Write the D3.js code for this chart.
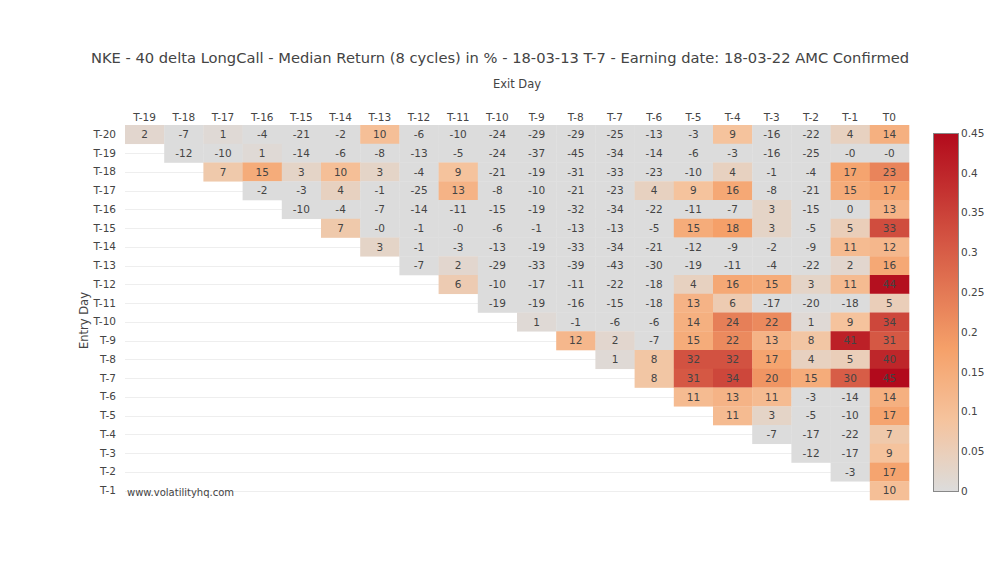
<!DOCTYPE html>
<html><head><meta charset="utf-8">
<script src="https://cdn.jsdelivr.net/npm/d3@7"></script>
<style>html,body{margin:0;padding:0;background:#fff;}svg{display:block;}</style>
</head><body>
<svg id="chart" width="1000" height="584"></svg>
<script>
// ---- data ----
const exitDays = ["T-19","T-18","T-17","T-16","T-15","T-14","T-13","T-12","T-11","T-10","T-9","T-8","T-7","T-6","T-5","T-4","T-3","T-2","T-1","T0"];
const entryDays = ["T-20","T-19","T-18","T-17","T-16","T-15","T-14","T-13","T-12","T-11","T-10","T-9","T-8","T-7","T-6","T-5","T-4","T-3","T-2","T-1"];
// each row starts at the exit day following its entry day (median return in %)
const rowT20 = [2,-7,1,-4,-21,-2,10,-6,-10,-24,-29,-29,-25,-13,-3,9,-16,-22,4,14];
const rowT19 = [-12,-10,1,-14,-6,-8,-13,-5,-24,-37,-45,-34,-14,-6,-3,-16,-25,-0,-0];
const rowT18 = [7,15,3,10,3,-4,9,-21,-19,-31,-33,-23,-10,4,-1,-4,17,23];
const rowT17 = [-2,-3,4,-1,-25,13,-8,-10,-21,-23,4,9,16,-8,-21,15,17];
const rowT16 = [-10,-4,-7,-14,-11,-15,-19,-32,-34,-22,-11,-7,3,-15,0,13];
const rowT15 = [7,-0,-1,-0,-6,-1,-13,-13,-5,15,18,3,-5,5,33];
const rowT14 = [3,-1,-3,-13,-19,-33,-34,-21,-12,-9,-2,-9,11,12];
const rowT13 = [-7,2,-29,-33,-39,-43,-30,-19,-11,-4,-22,2,16];
const rowT12 = [6,-10,-17,-11,-22,-18,4,16,15,3,11,44];
const rowT11 = [-19,-19,-16,-15,-18,13,6,-17,-20,-18,5];
const rowT10 = [1,-1,-6,-6,14,24,22,1,9,34];
const rowT9 = [12,2,-7,15,22,13,8,41,31];
const rowT8 = [1,8,32,32,17,4,5,40];
const rowT7 = [8,31,34,20,15,30,45];
const rowT6 = [11,13,11,-3,-14,14];
const rowT5 = [11,3,-5,-10,17];
const rowT4 = [-7,-17,-22,7];
const rowT3 = [-12,-17,9];
const rowT2 = [-3,17];
const rowT1 = [10];
const rowsByEntry = [rowT20,rowT19,rowT18,rowT17,rowT16,rowT15,rowT14,rowT13,rowT12,rowT11,rowT10,rowT9,rowT8,rowT7,rowT6,rowT5,rowT4,rowT3,rowT2,rowT1];
const colorTicks = [0,0.05,0.1,0.15,0.2,0.25,0.3,0.35,0.4,0.45];
const zMax = 0.45;
const titleText = "NKE - 40 delta LongCall - Median Return (8 cycles) in % - 18-03-13 T-7 - Earning date: 18-03-22 AMC Confirmed";

// build cells
const cells = [];
rowsByEntry.forEach((row, ri) => {
  row.forEach((v, k) => {
    cells.push({entry: entryDays[ri], exit: exitDays[ri + k], value: v});
  });
});

// ---- drawing ----
const FONT = "'DejaVu Sans', Verdana, sans-serif";
const svg = d3.select("#chart");
const plot = {left:125, right:909, top:125, bottom:500};

const x = d3.scaleBand().domain(exitDays).range([plot.left, plot.right]).padding(0);
const y = d3.scaleBand().domain(entryDays).range([plot.top, plot.bottom]).padding(0);
const color = d3.scaleLinear()
  .domain([0, 0.2*zMax, 0.4*zMax, zMax])
  .range(["rgb(220,220,220)","rgb(245,195,157)","rgb(245,160,105)","rgb(178,10,28)"])
  .clamp(true);

// gridlines (horizontal at row centers)
svg.append("g").selectAll("line").data(entryDays).join("line")
  .attr("x1", plot.left).attr("x2", plot.right)
  .attr("y1", d => Math.round(y(d) + y.bandwidth()/2) + 0.5)
  .attr("y2", d => Math.round(y(d) + y.bandwidth()/2) + 0.5)
  .attr("stroke", "#eeeeee").attr("stroke-width", 1);

// cells
svg.append("g").selectAll("rect").data(cells).join("rect")
  .attr("x", d => x(d.exit)).attr("y", d => y(d.entry))
  .attr("width", x.bandwidth() + 0.3).attr("height", y.bandwidth() + 0.3)
  .attr("fill", d => color(d.value / 100));

const fmt = v => Object.is(v, -0) ? "-0" : String(v);
svg.append("g").selectAll("text").data(cells).join("text")
  .attr("x", d => x(d.exit) + x.bandwidth()/2)
  .attr("y", d => y(d.entry) + y.bandwidth()/2)
  .attr("dy", "0.36em").attr("text-anchor", "middle")
  .attr("font-family", FONT).attr("font-size", "10.5px").attr("fill", "#444")
  .text(d => fmt(d.value));

// axes
const xAxis = svg.append("g").attr("transform", `translate(0,${plot.top - 3})`)
  .call(d3.axisTop(x).tickSize(0).tickPadding(0));
xAxis.select(".domain").remove();
xAxis.selectAll("text").attr("font-family", FONT).attr("font-size", "10.5px").attr("fill", "#444").attr("dy", "-0.05em");

const yAxis = svg.append("g").attr("transform", `translate(${plot.left - 9},0)`)
  .call(d3.axisLeft(y).tickSize(0).tickPadding(0));
yAxis.select(".domain").remove();
yAxis.selectAll("text").attr("font-family", FONT).attr("font-size", "10.5px").attr("fill", "#444");

// titles
const title = svg.append("text").attr("x", 500).attr("y", 63).attr("text-anchor", "middle")
  .attr("font-family", FONT).attr("font-size", "15px").attr("fill", "#444").text(titleText);
const tl = title.node().getComputedTextLength();
title.attr("font-size", (15 * 819 / tl).toFixed(2) + "px");

svg.append("text").attr("x", (plot.left + plot.right)/2).attr("y", 88).attr("text-anchor", "middle")
  .attr("font-family", FONT).attr("font-size", "11.5px").attr("fill", "#444").text("Exit Day");

svg.append("text").attr("transform", `translate(88,${(plot.top+plot.bottom)/2 + 8}) rotate(-90)`)
  .attr("text-anchor", "middle")
  .attr("font-family", FONT).attr("font-size", "11.5px").attr("fill", "#444").text("Entry Day");

svg.append("text").attr("x", 127).attr("y", 496)
  .attr("font-family", FONT).attr("font-size", "10px").attr("fill", "#444").text("www.volatilityhq.com");

// colorbar
const cb = {x:933, w:25, top:133, bottom:491};
const cy = d3.scaleLinear().domain([0, zMax]).range([cb.bottom, cb.top]);
const defs = svg.append("defs");
const grad = defs.append("linearGradient").attr("id", "cbgrad")
  .attr("x1", 0).attr("y1", 1).attr("x2", 0).attr("y2", 0);
d3.range(0, 1.0001, 0.05).forEach(t => {
  grad.append("stop").attr("offset", t).attr("stop-color", color(t * zMax));
});
svg.append("rect").attr("x", cb.x + 0.5).attr("y", cb.top + 0.5)
  .attr("width", cb.w).attr("height", cb.bottom - cb.top)
  .attr("fill", "url(#cbgrad)").attr("stroke", "#888").attr("stroke-width", 1);
const cAxis = svg.append("g").attr("transform", `translate(${cb.x + cb.w + 3},0)`)
  .call(d3.axisRight(cy).tickValues(colorTicks).tickSize(0).tickPadding(0).tickFormat(v => String(+v.toFixed(2))));
cAxis.select(".domain").remove();
cAxis.selectAll("text").attr("font-family", FONT).attr("font-size", "10.5px").attr("fill", "#444");
</script>
</body></html>
